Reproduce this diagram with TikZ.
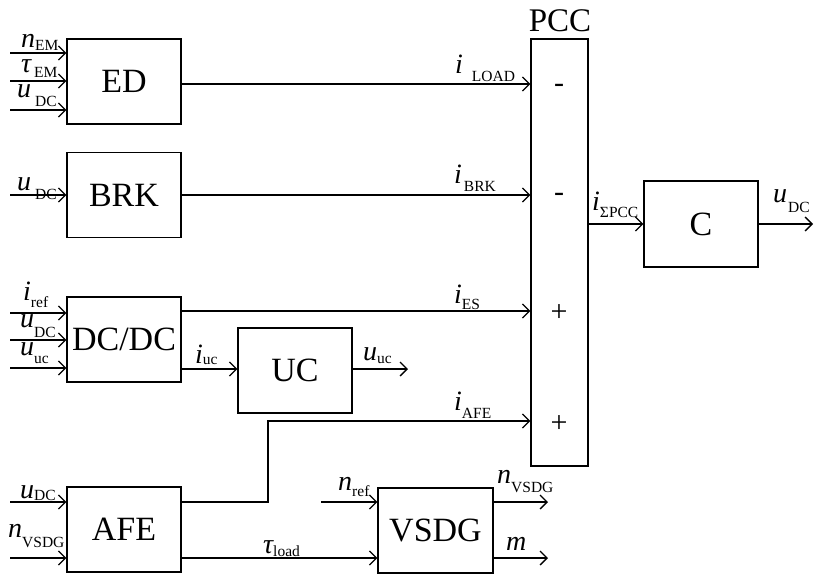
\documentclass[tikz,border=0pt]{standalone}
\usepackage{fontspec}
\setmainfont{Liberation Serif}
\usetikzlibrary{arrows.meta}
\newcommand\sbx[2][4]{\raisebox{-#1pt}{\upshape\fontsize{15.5}{15.5}\selectfont #2}}
\tikzset{
  blk/.style={draw, line width=1.3pt, minimum width=114pt, minimum height=85pt, inner sep=0pt, font=\fontsize{34}{34}\selectfont},
  sig/.style={line width=1.3pt, -{Straight Barb[length=7pt,width=14pt,line width=1.3pt]}},
  lab/.style={anchor=base west, inner sep=0pt, font=\fontsize{28}{28}\selectfont\itshape},
  sgn/.style={inner sep=0pt, font=\fontsize{30}{30}\selectfont}
}
\begin{document}
\begin{tikzpicture}[x=1pt,y=-1pt]
\useasboundingbox (0,0) rectangle (818,576);
% blocks
\node[blk] (ED) at (124,81.5) {ED};
\node[blk] (BRK) at (124,195) {BRK};
\node[blk] (DCDC) at (124,339.5) {DC/DC};
\node[blk] (UC) at (295,370.5) {UC};
\node[blk] (AFE) at (124,529.5) {AFE};
\node[blk, minimum width=115pt] (VSDG) at (435.5,530.5) {VSDG};
\node[draw, line width=1.3pt, minimum width=57pt, minimum height=427pt, inner sep=0pt] (PCC) at (559.5,252.5) {};
\node[blk, minimum height=86pt] (C) at (701,224) {C};
\node[anchor=base, inner sep=0pt, font=\fontsize{33}{33}\selectfont] (PCCl) at (560,31) {PCC};
% signs
\node[sgn] (s1) at (559,88) {-};
\node[sgn] (s2) at (559,197) {-};
\node[sgn] (s3) at (559,313) {+};
\node[sgn] (s4) at (559,424) {+};
% coordinates
\coordinate (e1) at (10,53);
\coordinate (e2) at (10,81);
\coordinate (e3) at (10,110);
\coordinate (b1) at (10,195);
\coordinate (d1) at (10,313);
\coordinate (d2) at (10,340);
\coordinate (d3) at (10,368);
\coordinate (a1) at (10,502);
\coordinate (a2) at (10,558);
\coordinate (v1) at (321,502);
\coordinate (uo) at (408,369);
\coordinate (vo1) at (548,502);
\coordinate (vo2) at (548,558);
\coordinate (co) at (813,224);
% inputs
\draw[sig] (e1) -- (e1 -| ED.west);
\draw[sig] (e2) -- (e2 -| ED.west);
\draw[sig] (e3) -- (e3 -| ED.west);
\draw[sig] (b1) -- (b1 -| BRK.west);
\draw[sig] (d1) -- (d1 -| DCDC.west);
\draw[sig] (d2) -- (d2 -| DCDC.west);
\draw[sig] (d3) -- (d3 -| DCDC.west);
\draw[sig] (a1) -- (a1 -| AFE.west);
\draw[sig] (a2) -- (a2 -| AFE.west);
\draw[sig] (v1) -- (v1 -| VSDG.west);
% to PCC
\draw[sig] (ED.east |- 0,84) -- (PCC.west |- 0,84);
\draw[sig] (BRK.east) -- (PCC.west |- BRK.east);
\draw[sig] (DCDC.east |- 0,311) -- (PCC.west |- 0,311);
\draw[sig] (AFE.east |- a1) -- (268,502) -- (268,421) -- (PCC.west |- 0,421);
\draw[sig] (DCDC.east |- 0,369) -- (UC.west |- 0,369);
\draw[sig] (UC.east |- uo) -- (uo);
\draw[sig] (AFE.east |- a2) -- (VSDG.west |- a2);
\draw[sig] (VSDG.east |- vo1) -- (vo1);
\draw[sig] (VSDG.east |- vo2) -- (vo2);
\draw[sig] (PCC.east |- C.west) -- (C.west);
\draw[sig] (C.east) -- (co);
% labels
\node[lab] (l1) at (21,47) {n\sbx[3]{EM}};
\node[lab] (l2) at (21,72) {τ\hspace{3pt}\sbx[5]{EM}};
\node[lab] (l3) at (17,97) {u\hspace{4pt}\sbx[9]{DC}};
\node[lab] (l4) at (17,190) {u\hspace{4pt}\sbx[9]{DC}};
\node[lab] (l5) at (23,300) {i\sbx[7]{ref}};
\node[lab] (l6) at (20,327) {u\sbx[10]{DC}};
\node[lab] (l7) at (20,355) {u\sbx[8]{uc}};
\node[lab] (l8) at (195,363) {i\sbx[1]{uc}};
\node[lab] (l9) at (363,360) {u\sbx[3]{uc}};
\node[lab] (l10) at (20,498) {u\sbx[2]{DC}};
\node[lab] (l11) at (8,537) {n\sbx[10]{VSDG}};
\node[lab] (l12) at (338,490) {n\sbx[6]{ref}};
\node[lab] (l13) at (497,483) {n\sbx[9]{VSDG}};
\node[lab] (l14) at (506,550) {m};
\node[lab] (l15) at (263,553) {τ\sbx[3]{load}};
\node[lab] (l16) at (455,73) {i\hspace{9pt}\sbx[8]{LOAD}};
\node[lab] (l17) at (454,183) {i\hspace{2pt}\sbx[8]{BRK}};
\node[lab] (l18) at (454,303) {i\sbx[6]{ES}};
\node[lab] (l19) at (454,410) {i\sbx[8]{AFE}};
\node[lab] (l20) at (592,210) {i\sbx[7]{ΣPCC}};
\node[lab] (l21) at (773,202) {u\hspace{1pt}\sbx[10]{DC}};
\end{tikzpicture}
\end{document}
